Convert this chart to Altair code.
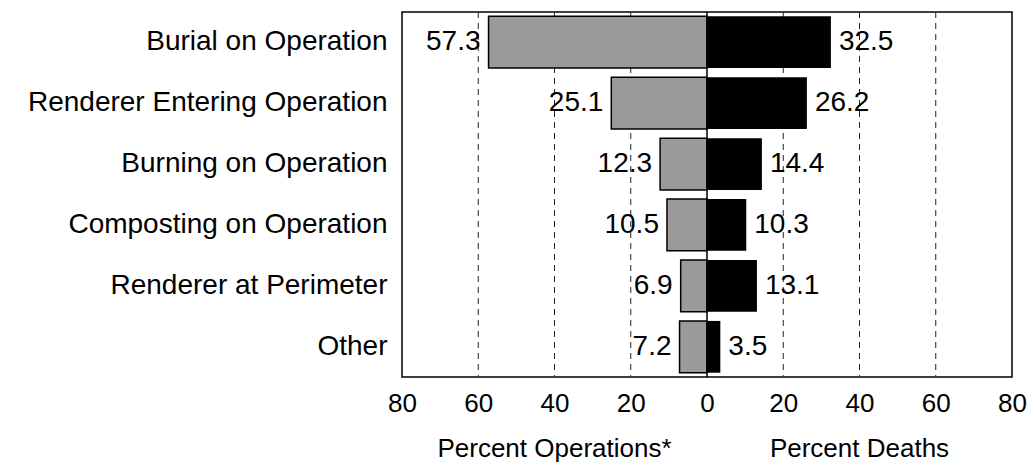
import altair as alt
import pandas as pd

# ---- data ----
categories = ["Burial on Operation", "Renderer Entering Operation", "Burning on Operation",
              "Composting on Operation", "Renderer at Perimeter", "Other"]
pct_operations = [57.3, 25.1, 12.3, 10.5, 6.9, 7.2]
pct_deaths = [32.5, 26.2, 14.4, 10.3, 13.1, 3.5]
tick_values = [-80, -60, -40, -20, 0, 20, 40, 60, 80]
grid_values = [-60, -40, -20, 20, 40, 60]
axis_titles = ["Percent Operations*", "Percent Deaths"]
axis_title_pos = [-40, 40]

df = pd.DataFrame({"cat": categories, "ops": pct_operations, "deaths": pct_deaths})
df["ops_neg"] = -df["ops"]
df["zero"] = 0.0
df["ops_label"] = [f"{v:.1f}" for v in pct_operations]
df["deaths_label"] = [f"{v:.1f}" for v in pct_deaths]

grid_df = pd.DataFrame({"g": grid_values})
zero_df = pd.DataFrame({"z": [0]})
title_df = pd.DataFrame({"x": axis_title_pos, "t": axis_titles})

W, H = 610, 365
FONT = "Liberation Sans"

xscale = alt.Scale(domain=[-80, 80], nice=False, zero=False)
yscale = alt.Scale(domain=categories, paddingInner=0.15, paddingOuter=0.07)

x_axis = alt.Axis(values=tick_values, labelExpr="abs(datum.value)", title=None,
                  grid=False, domain=False, ticks=False, labelFontSize=26,
                  labelFont=FONT, labelColor="black", labelPadding=13,
                  labelFlush=False, labelOverlap=False)
y_axis = alt.Axis(title=None, ticks=False, domain=False, labelFontSize=28,
                  labelFont=FONT, labelColor="black", labelPadding=15, labelLimit=0)


def xenc(field):
    return alt.X(field, scale=xscale, axis=x_axis)


y_enc = alt.Y("cat:N", scale=yscale, sort=categories, axis=y_axis)

grid = alt.Chart(grid_df).mark_rule(color="#222", strokeWidth=1, strokeDash=[6, 5]).encode(
    x=xenc("g:Q")
)

left_bars = alt.Chart(df).mark_bar(fill="#9a9a9a", stroke="black", strokeWidth=1.5).encode(
    x=xenc("ops_neg:Q"),
    x2="zero:Q",
    y=y_enc,
)

right_bars = alt.Chart(df).mark_bar(color="black").encode(
    x=xenc("zero:Q"),
    x2="deaths:Q",
    y=y_enc,
)

zero_line = alt.Chart(zero_df).mark_rule(color="black", strokeWidth=1.5).encode(
    x=xenc("z:Q")
)

left_text = alt.Chart(df).mark_text(align="right", baseline="middle", dx=-8, fontSize=28,
                                    font=FONT, color="black").encode(
    x=xenc("ops_neg:Q"),
    y=y_enc,
    text="ops_label:N",
)

right_text = alt.Chart(df).mark_text(align="left", baseline="middle", dx=8, fontSize=28,
                                     font=FONT, color="black").encode(
    x=xenc("deaths:Q"),
    y=y_enc,
    text="deaths_label:N",
)

titles = alt.Chart(title_df).mark_text(align="center", baseline="middle", fontSize=26,
                                       font=FONT, color="black").encode(
    x=xenc("x:Q"),
    y=alt.value(H + 72),
    text="t:N",
)

chart = alt.layer(grid, left_bars, right_bars, zero_line, left_text, right_text, titles).properties(
    width=W, height=H,
    autosize=alt.AutoSizeParams(type="none"),
    padding={"left": 394, "top": 4, "right": 15, "bottom": 88},
    background="white",
).configure_view(stroke="black", strokeWidth=1.5)

chart.save("out.html", embed_options={"renderer": "svg", "actions": False})
